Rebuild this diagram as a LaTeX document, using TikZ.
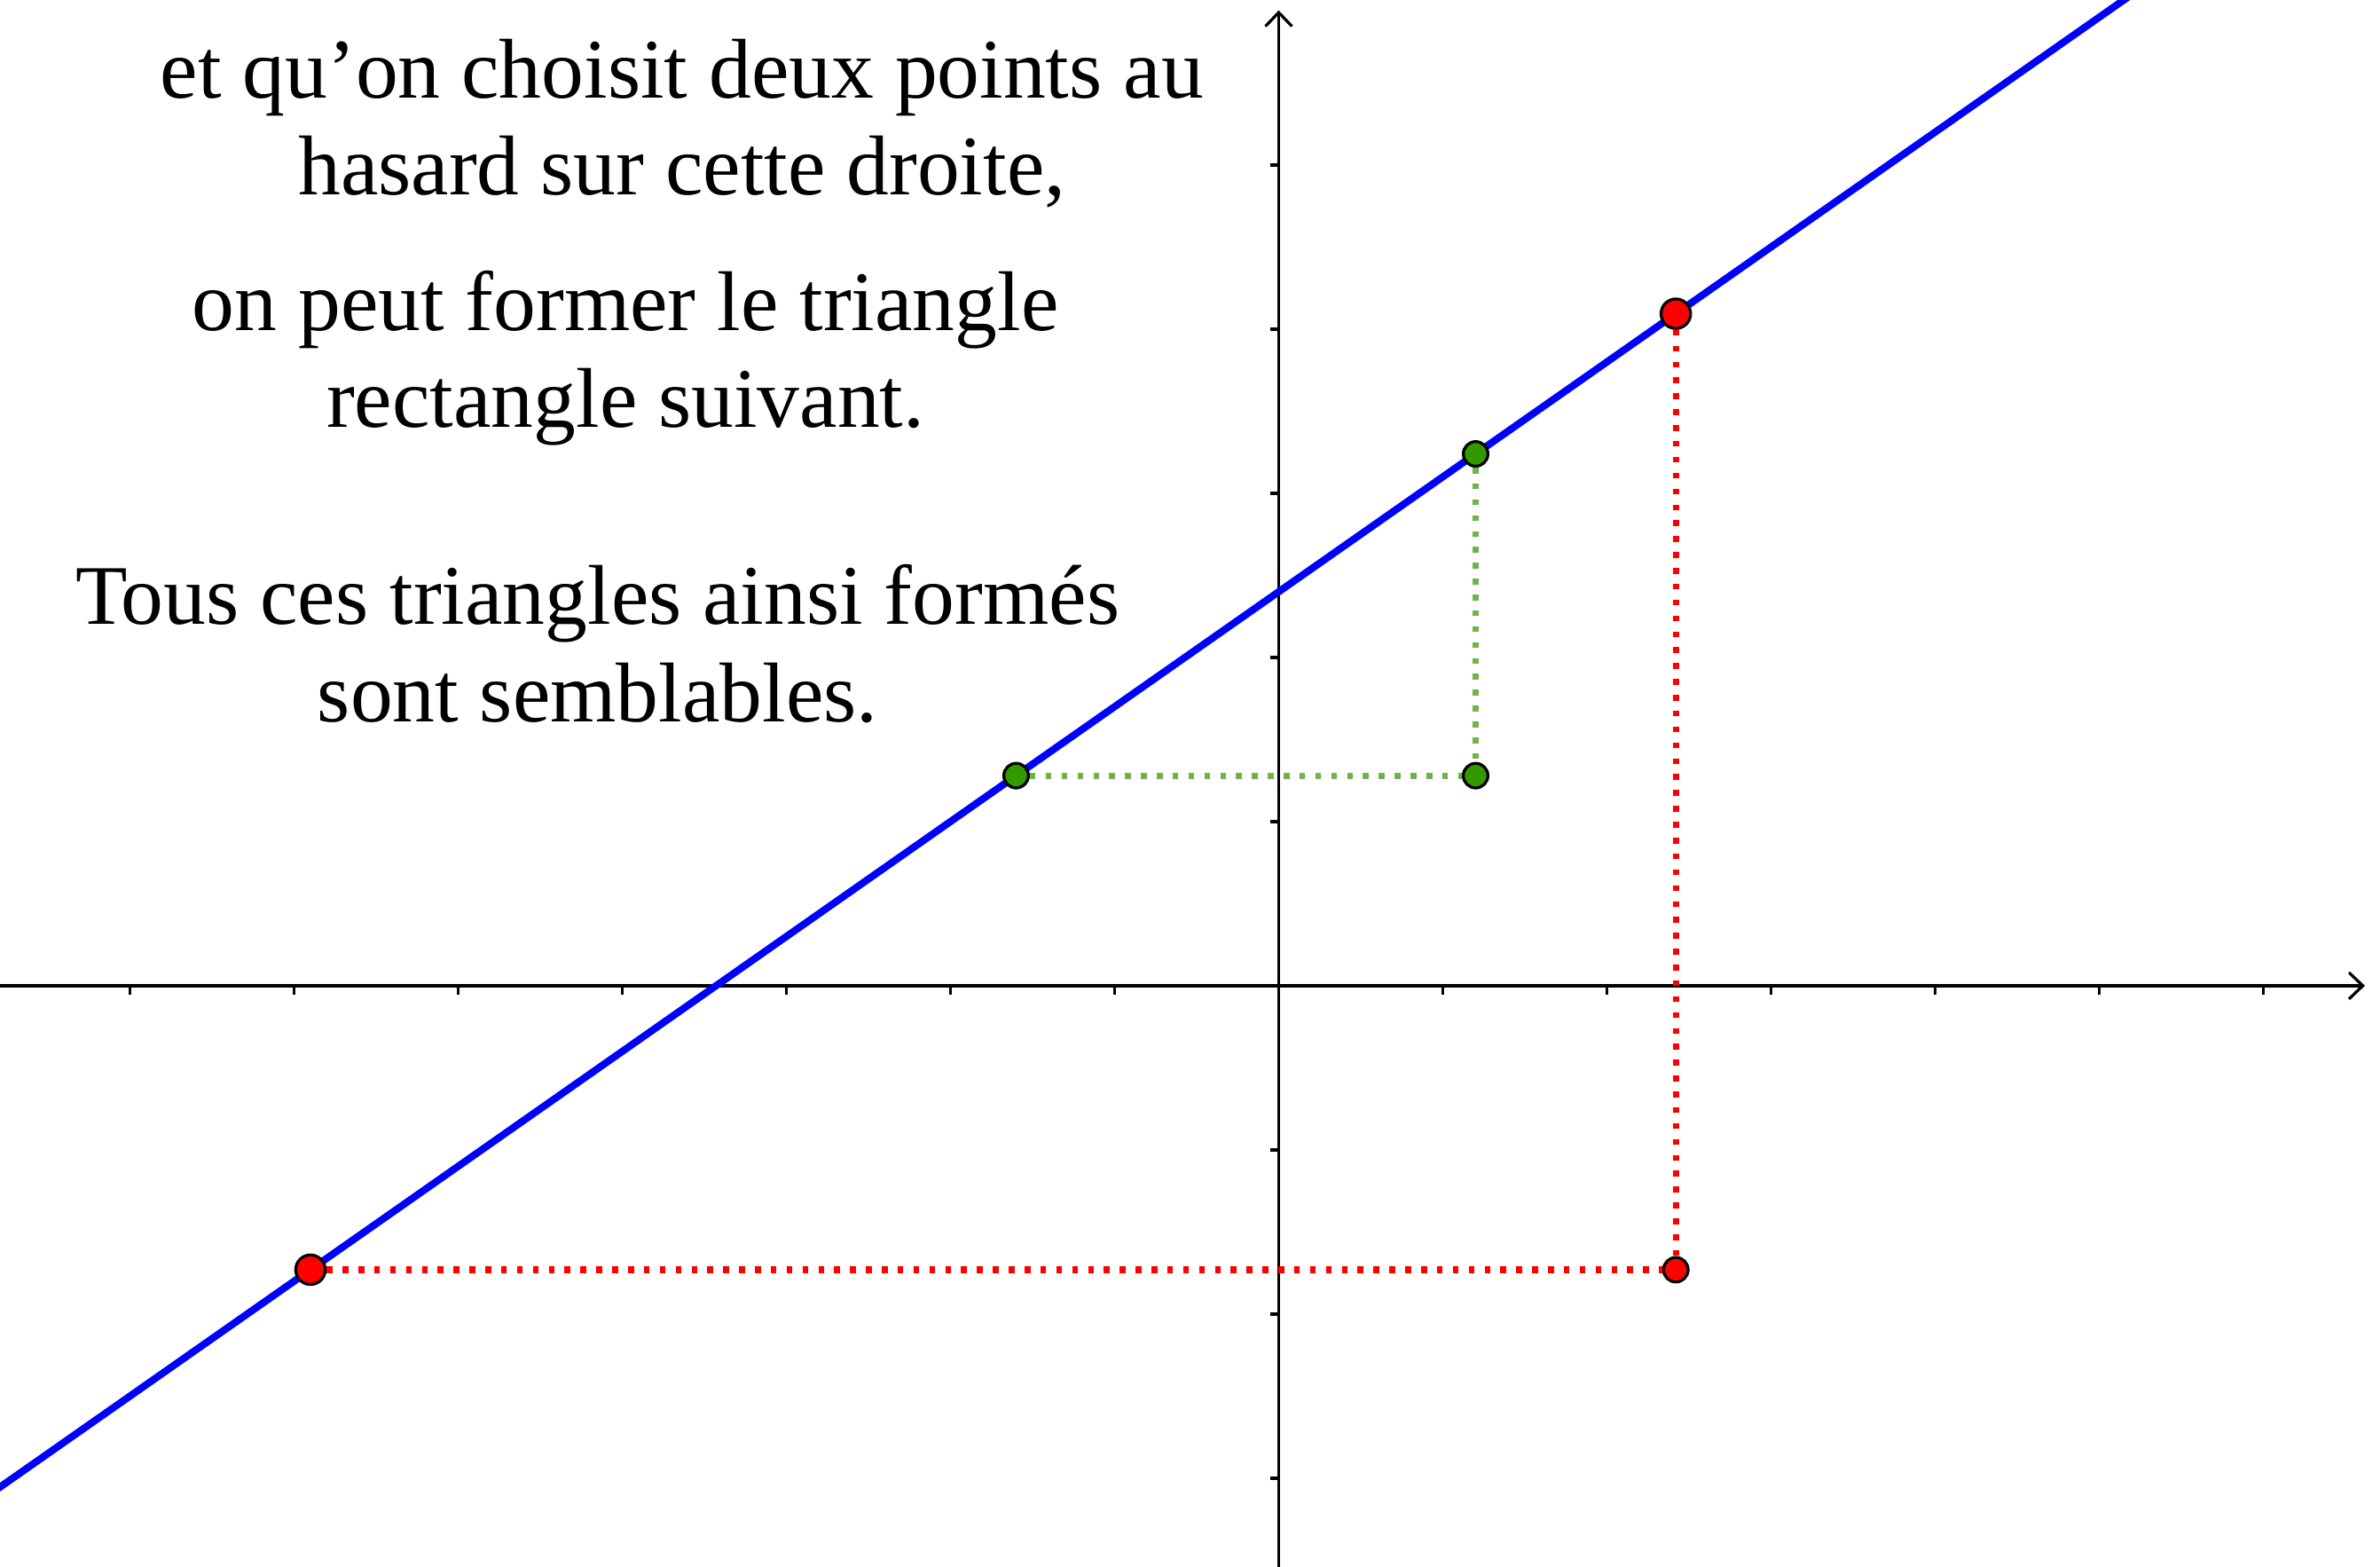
\documentclass[tikz,border=0pt]{standalone}
\usepackage{fontspec}
\setmainfont{Liberation Serif}
\usetikzlibrary{arrows.meta}
\definecolor{ptgreen}{RGB}{51,153,0}
\definecolor{dotgreen}{RGB}{110,180,75}
\begin{document}
\begin{tikzpicture}[
  axis/.style={line width=0.5pt, black, -{Straight Barb[length=2.4pt,width=4.6pt,line width=0.5pt]}},
  tickmark/.style={line width=0.5pt, black},
  bluelinestyle/.style={line width=1.25pt, blue},
  dotline/.style={line width=1.1pt, dash pattern=on 1.0pt off 1.75pt},
  bigpt/.style={circle, draw=black, line width=0.5pt, fill=red, inner sep=0pt, minimum size=0.18cm},
  redpt/.style={circle, draw=black, line width=0.5pt, fill=red, inner sep=0pt, minimum size=0.15cm},
  greenpt/.style={circle, draw=black, line width=0.5pt, fill=ptgreen, inner sep=0pt, minimum size=0.15cm},
  txt/.style={anchor=base, inner sep=0pt, font=\fontsize{14.7}{16.8}\selectfont}
]
\useasboundingbox (-7.792,-3.541) rectangle (6.711,6.005);
\clip (-7.792,-3.541) rectangle (6.711,6.005);
% axes
\coordinate (xl) at (-7.9,0);
\coordinate (xr) at (6.619,0);
\coordinate (yb) at (0,-3.6);
\coordinate (yt) at (0,5.942);
\draw[axis] (xl) -- (xr);
\draw[axis] (yb) -- (yt);
\foreach \i in {-7,...,-1,1,2,...,6} \draw[tickmark] (\i,0) -- (\i,-0.054);
\foreach \j in {-3,...,-1,1,2,...,5} \draw[tickmark] (0,\j) -- (-0.05,\j);
% line y = 0.7x + 2.4
\coordinate (L1) at (-8,-3.2);
\coordinate (L2) at (6,6.6);
\draw[bluelinestyle] (L1) -- (L2);
% points
\node[bigpt] (A) at (-5.9,-1.73) {};
\node[bigpt] (B) at (2.42,4.094) {};
\node[redpt] (C) at (2.42,-1.73) {};
\node[greenpt] (G1) at (-1.6,1.28) {};
\node[greenpt] (G2) at (1.2,3.24) {};
\node[greenpt] (G3) at (1.2,1.28) {};
\draw[dotline, red] (A) -- (C);
\draw[dotline, red] (B) -- (C);
\draw[dotline, dotgreen] (G1) -- (G3);
\draw[dotline, dotgreen] (G2) -- (G3);
% texts
\node[txt] (t1) at (-3.636,5.41) {et qu’on choisit deux points au};
\node[txt] (t2) at (-3.636,4.82) {hasard sur cette droite,};
\node[txt] (t3) at (-3.98,3.99) {on peut former le triangle};
\node[txt] (t4) at (-3.98,3.40) {rectangle suivant.};
\node[txt] (t5) at (-4.15,2.20) {Tous ces triangles ainsi formés};
\node[txt] (t6) at (-4.15,1.61) {sont semblables.};
\end{tikzpicture}
\end{document}
